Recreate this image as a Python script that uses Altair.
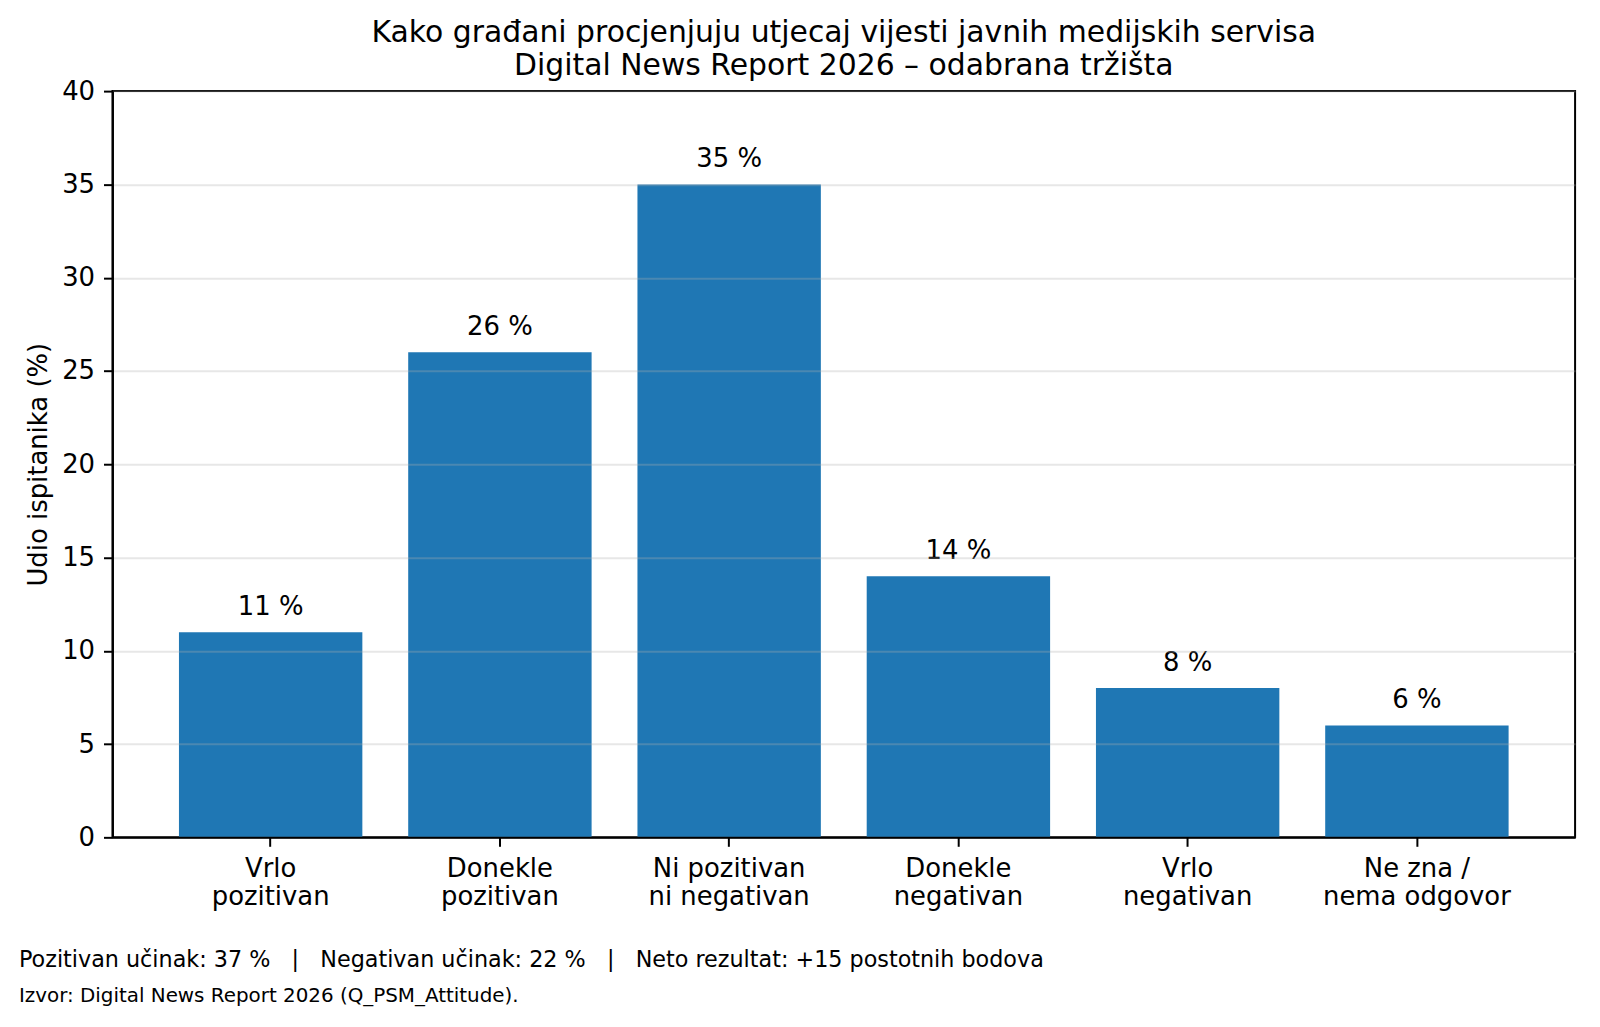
import altair as alt
import pandas as pd

categories = [
    "Vrlo\npozitivan",
    "Donekle\npozitivan",
    "Ni pozitivan\nni negativan",
    "Donekle\nnegativan",
    "Vrlo\nnegativan",
    "Ne zna /\nnema odgovor",
]
values = [11, 26, 35, 14, 8, 6]
value_labels = [f"{v} %" for v in values]
y_ticks = [0, 5, 10, 15, 20, 25, 30, 35, 40]
title_lines = [
    "Kako građani procjenjuju utjecaj vijesti javnih medijskih servisa",
    "Digital News Report 2026 – odabrana tržišta",
]
sep = "\u00a0\u00a0\u00a0|\u00a0\u00a0\u00a0"
footer_line1 = "Pozitivan učinak: 37 %" + sep + "Negativan učinak: 22 %" + sep + "Neto rezultat: +15 postotnih bodova"
footer_line2 = "Izvor: Digital News Report 2026 (Q_PSM_Attitude)."

FONT = "DejaVu Sans"

df = pd.DataFrame({"cat": categories, "val": values, "lab": value_labels})

x_enc = alt.X(
    "cat:N",
    sort=categories,
    scale=alt.Scale(paddingInner=0.2, paddingOuter=0.29),
    axis=alt.Axis(
        title=None,
        labelAngle=0,
        labelExpr="split(datum.label, '\\n')",
        labelLineHeight=28.5,
        labelFontSize=26,
        labelPadding=9,
        labelLimit=400,
        tickSize=9,
        tickWidth=2,
        domainWidth=2,
        grid=False,
        zindex=1,
    ),
)
y_enc = alt.Y(
    "val:Q",
    scale=alt.Scale(domain=[0, 40], nice=False),
    axis=alt.Axis(
        values=y_ticks,
        title="Udio ispitanika (%)",
        titleFontSize=26,
        titlePadding=10,
        labelFontSize=26,
        labelPadding=9,
        tickSize=9,
        tickWidth=2,
        domainWidth=2,
        grid=True,
        gridColor="#b0b0b0",
        gridOpacity=0.3,
        gridWidth=2,
        zindex=1,
    ),
)

base = alt.Chart(df)
bars = base.mark_bar(color="#1f77b4").encode(x=x_enc, y=y_enc)
labels = base.mark_text(
    dy=-17, baseline="alphabetic", fontSize=26, font=FONT, color="black"
).encode(x=alt.X("cat:N", sort=categories), y="val:Q", text="lab:N")

foot1 = alt.Chart(pd.DataFrame({"t": [footer_line1]})).mark_text(
    align="left", baseline="alphabetic", fontSize=22.4, font=FONT, color="black"
).encode(x=alt.value(-94), y=alt.value(880), text="t:N")
foot2 = alt.Chart(pd.DataFrame({"t": [footer_line2]})).mark_text(
    align="left", baseline="alphabetic", fontSize=20, font=FONT, color="black"
).encode(x=alt.value(-94), y=alt.value(915), text="t:N")

chart = (
    alt.layer(bars, labels, foot1, foot2)
    .properties(
        width=1470,
        height=750,
        title=alt.TitleParams(
            text=title_lines,
            fontSize=30,
            font=FONT,
            fontWeight="normal",
            color="black",
            anchor="middle",
            frame="group",
            lineHeight=33,
            baseline="bottom",
            offset=12,
            dy=45,
        ),
        autosize=alt.AutoSizeParams(type="none"),
        padding={"left": 105, "top": 81, "right": 17, "bottom": 170},
    )
    .configure_view(stroke="black", strokeWidth=2)
    .configure_axis(
        labelFont=FONT,
        titleFont=FONT,
        labelColor="black",
        titleColor="black",
        titleFontWeight="normal",
        domainColor="black",
        tickColor="black",
    )
)

chart.save("out.html", embed_options={"renderer": "svg", "actions": False})
